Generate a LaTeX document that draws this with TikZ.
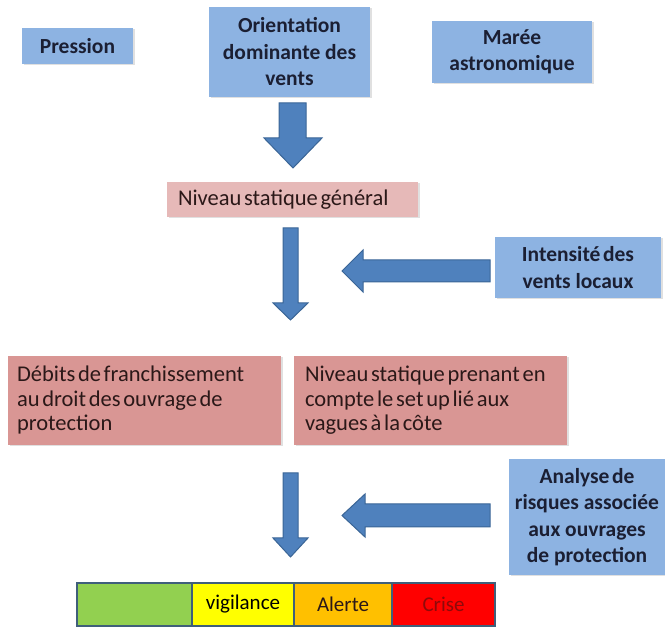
\documentclass[tikz,border=0pt]{standalone}
\usepackage{fontspec}
\setmainfont{Carlito}
\usetikzlibrary{shadows}
\newcommand\tightsp{\spaceskip 0.12em plus 0.05em\relax}
\newcommand\boldtxt{\bfseries\fontsize{21.5}{26.5}\selectfont}
\newcommand\plaintxt{\fontsize{22.5}{24.5}\selectfont}
\definecolor{boxblue}{HTML}{8DB3E2}
\definecolor{arrowblue}{HTML}{4F81BD}
\definecolor{arrowedge}{HTML}{3A6596}
\definecolor{pinklight}{HTML}{E6B9B8}
\definecolor{pinkdark}{HTML}{D99694}
\definecolor{navytext}{HTML}{1B1F33}
\definecolor{browntext}{HTML}{2B1818}
\definecolor{bargreen}{HTML}{92D050}
\definecolor{baryellow}{HTML}{FFFF00}
\definecolor{barorange}{HTML}{FFC000}
\definecolor{barred}{HTML}{FF0000}
\definecolor{barborder}{HTML}{3F5F7A}
\definecolor{crisetext}{HTML}{8E0A0A}
\begin{document}
\begin{tikzpicture}[x=1pt,y=-1pt,
  shadowed/.style={drop shadow={shadow xshift=1.5pt,shadow yshift=-1.5pt,opacity=0.2,fill=black!60}},
  bluebox/.style={shadowed,fill=boxblue,inner sep=0pt,align=center,text=navytext,font=\boldtxt},
  pinkbox/.style={shadowed,inner ysep=0pt,align=left,text=browntext,font=\plaintxt},
  fatarrow/.style={fill=arrowblue,draw=arrowedge,line width=1pt,line join=miter},
  seg/.style={draw=barborder,line width=1.6pt,inner sep=0pt,minimum height=43pt,
    font=\fontsize{21}{24}\selectfont}
]
\useasboundingbox (0,0) rectangle (665,628);

% top row
\node[bluebox,minimum width=111pt,minimum height=36pt] (pression) at (77.5,46) {Pression};
\node[bluebox,minimum width=161pt,minimum height=90pt] (orient) at (289.5,52) {\tightsp Orientation\\dominante des\\vents};
\node[bluebox,minimum width=160pt,minimum height=62pt] (maree) at (512,52) {Marée\\astronomique};

% general static level
\node[pinkbox,fill=pinklight,inner xsep=11pt,text width=229pt,minimum height=35pt] (nivgen) at (292.5,199.5) {\tightsp Niveau statique général};

% local winds
\node[bluebox,minimum width=166pt,minimum height=61pt] (intens) at (578,267.5) {\tightsp Intensité des\\vents locaux};

% middle pink boxes
\node[pinkbox,fill=pinkdark,inner xsep=9pt,text width=255pt,minimum height=89pt] (debits) at (144.5,400.5) {\tightsp Débits de franchissement\\au droit des ouvrage de\\protection};
\node[pinkbox,fill=pinkdark,inner xsep=11pt,text width=251pt,minimum height=89pt] (nivpren) at (430.5,400.5) {\tightsp Niveau statique prenant en\\compte le set up lié aux\\vagues à la côte};

% risk analysis
\node[bluebox,minimum width=156pt,minimum height=116pt] (analyse) at (587,517) {\tightsp Analyse de\\risques associée\\aux ouvrages\\de protection};

% fat arrows
\draw[fatarrow] (279,103) -- (306,103) -- (306,138) -- (322,138) -- (293,168) -- (264,138) -- (279,138) -- cycle;
\draw[fatarrow] (283,228) -- (298,228) -- (298,303) -- (308,303) -- (290.5,320) -- (273,303) -- (283,303) -- cycle;
\draw[fatarrow] (490,260) -- (490,282) -- (363,282) -- (363,292) -- (342,271) -- (363,250) -- (363,260) -- cycle;
\draw[fatarrow] (283,473) -- (298,473) -- (298,538) -- (308,538) -- (290.5,557) -- (273,538) -- (283,538) -- cycle;
\draw[fatarrow] (490,504) -- (490,527) -- (365,527) -- (365,537) -- (342,515.5) -- (365,494) -- (365,504) -- cycle;

% alert bar
\node[seg,fill=bargreen,minimum width=115pt] (green) at (134.5,604.5) {};
\node[seg,fill=baryellow,minimum width=102pt,text=black] (vig) at (243,604.5) {vigilance};
\node[seg,fill=barorange,minimum width=98pt,text=browntext] (alerte) at (343,604.5) {Alerte};
\node[seg,fill=barred,minimum width=103pt,text=crisetext] (crise) at (443.5,604.5) {Crise};
\end{tikzpicture}
\end{document}
